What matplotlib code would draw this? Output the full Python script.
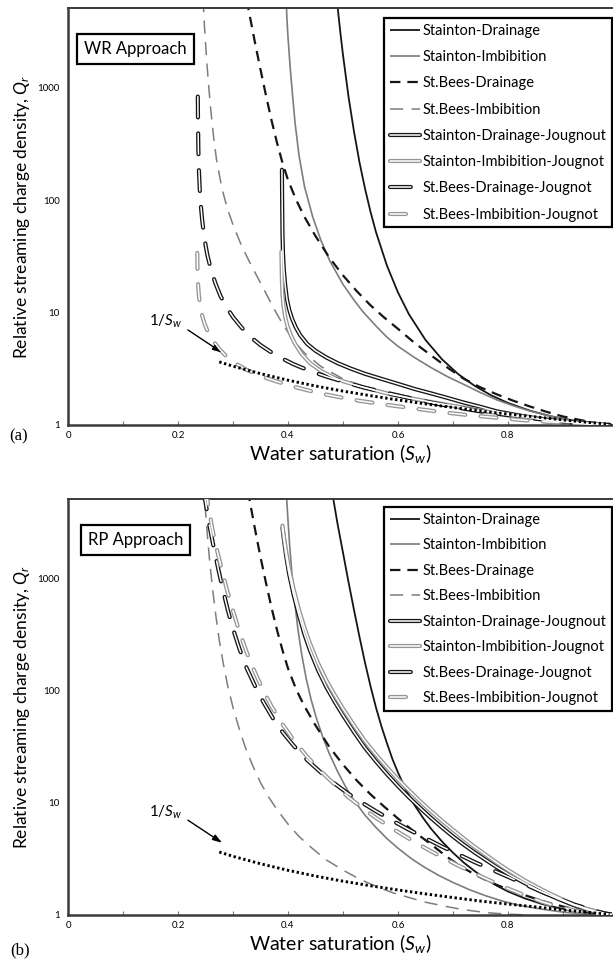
import matplotlib
matplotlib.use("Agg")
import matplotlib.pyplot as plt
from matplotlib.legend_handler import HandlerTuple
from matplotlib.ticker import FixedLocator, NullLocator

plt.rcParams["font.family"] = ["Lato", "DejaVu Sans"]
plt.rcParams["mathtext.fontset"] = "custom"
plt.rcParams["mathtext.rm"] = "Lato"
plt.rcParams["mathtext.it"] = "Lato:italic"
plt.rcParams["lines.scale_dashes"] = False

# ---------------------------------------------------------------- labels
series_labels = [
    "Stainton-Drainage",
    "Stainton-Imbibition",
    "St.Bees-Drainage",
    "St.Bees-Imbibition",
    "Stainton-Drainage-Jougnout",
    "Stainton-Imbibition-Jougnot",
    "St.Bees-Drainage-Jougnot",
    "St.Bees-Imbibition-Jougnot",
]
panel_titles = ["WR Approach", "RP Approach"]
panel_tags = ["(a)", "(b)"]
x_ticks = [0, 0.2, 0.4, 0.6, 0.8]
x_tick_labels = ["0", "0.2", "0.4", "0.6", "0.8"]
x_minor_ticks = [0.1, 0.3, 0.5, 0.7, 0.9]
y_ticks = [1, 10, 100, 1000]
y_tick_labels = ["1", "10", "100", "1000"]

# ---------------------------------------------------------------- (a) WR approach
wr_stainton_dr_sw = [0.485, 0.49, 0.495, 0.50, 0.51, 0.52, 0.53, 0.54, 0.55, 0.56, 0.58,
                     0.60, 0.62, 0.65, 0.68, 0.71, 0.74, 0.77, 0.80, 0.84, 0.88, 0.92,
                     0.96, 0.99]
wr_stainton_dr_q = [9500, 5350, 3170, 1960, 835, 408, 217, 127, 79, 52, 26.1,
                    15.1, 9.64, 5.71, 3.84, 2.82, 2.22, 1.83, 1.57, 1.34, 1.19, 1.094,
                    1.031, 1.004]

wr_stainton_im_sw = [0.396, 0.398, 0.40, 0.404, 0.408, 0.413, 0.42, 0.43, 0.445, 0.46,
                     0.476, 0.50, 0.52, 0.536, 0.56, 0.58, 0.60, 0.63, 0.66, 0.69,
                     0.72, 0.75, 0.78, 0.81, 0.84, 0.88, 0.92, 0.96, 0.985]
wr_stainton_im_q = [7940, 4170, 2820, 1510, 891, 479, 251, 132, 70.8, 43.7,
                    28.8, 17.8, 12.9, 10.2, 7.59, 6.03, 5.01, 3.98, 3.24, 2.69,
                    2.29, 1.94, 1.67, 1.48, 1.33, 1.19, 1.09, 1.03, 1.005]

wr_stbees_dr_sw = [0.325, 0.33, 0.34, 0.35, 0.36, 0.37, 0.38, 0.39, 0.40, 0.415,
                   0.43, 0.45, 0.475, 0.50, 0.525, 0.55, 0.575, 0.60, 0.63, 0.66,
                   0.69, 0.72, 0.75, 0.78, 0.81, 0.84, 0.87, 0.90, 0.93, 0.96, 0.985]
wr_stbees_dr_q = [6030, 4470, 2510, 1450, 851, 513, 324, 214, 151, 100,
                  70.8, 47.9, 30.9, 21.4, 15.5, 11.6, 9.02, 7.16, 5.37, 4.17,
                  3.24, 2.57, 2.16, 1.87, 1.64, 1.46, 1.31, 1.19, 1.11, 1.04, 1.007]

wr_stbees_im_sw = [0.245, 0.248, 0.252, 0.256, 0.26, 0.265, 0.27, 0.28, 0.29, 0.30,
                   0.315, 0.33, 0.345, 0.36, 0.375, 0.39, 0.41, 0.43, 0.46, 0.50,
                   0.55, 0.60, 0.65, 0.70, 0.75, 0.80, 0.85, 0.90, 0.95, 0.985]
wr_stbees_im_q = [7080, 3550, 1780, 1000, 603, 355, 229, 126, 83.2, 60.3,
                  39.8, 28.2, 20.4, 14.8, 10.7, 7.94, 5.62, 4.37, 3.31, 2.57,
                  2.09, 1.80, 1.58, 1.43, 1.30, 1.21, 1.13, 1.07, 1.03, 1.005]

wr_stainton_dr_j_sw = [0.389, 0.3893, 0.3897, 0.390, 0.391, 0.3925, 0.395, 0.398, 0.402,
                       0.407, 0.414, 0.422, 0.435, 0.45, 0.47, 0.49, 0.515, 0.54, 0.57,
                       0.60, 0.63, 0.66, 0.69, 0.72, 0.75, 0.78, 0.81, 0.84, 0.87, 0.90,
                       0.93, 0.96, 0.985]
wr_stainton_dr_j_q = [186, 112, 70.8, 50.1, 33.1, 24.0, 17.4, 13.2, 10.7,
                      8.91, 7.41, 6.31, 5.25, 4.57, 3.98, 3.55, 3.16, 2.85, 2.57,
                      2.32, 2.09, 1.91, 1.74, 1.58, 1.45, 1.32, 1.24, 1.17, 1.11, 1.07,
                      1.04, 1.014, 1.002]

wr_stainton_im_j_sw = [0.388, 0.3885, 0.389, 0.390, 0.392, 0.395, 0.399, 0.405, 0.413,
                       0.425, 0.44, 0.46, 0.48, 0.50, 0.53, 0.56, 0.59, 0.62, 0.66,
                       0.70, 0.74, 0.78, 0.82, 0.86, 0.90, 0.94, 0.975]
wr_stainton_im_j_q = [34.7, 25.1, 19.1, 14.5, 11.2, 9.12, 7.59, 6.31, 5.25,
                      4.27, 3.55, 3.02, 2.69, 2.45, 2.21, 2.02, 1.86, 1.74, 1.60,
                      1.48, 1.37, 1.28, 1.20, 1.135, 1.08, 1.04, 1.01]

wr_stbees_dr_j_sw = [0.236, 0.2365, 0.237, 0.238, 0.2395, 0.2415, 0.244, 0.248, 0.253,
                     0.26, 0.268, 0.277, 0.289, 0.30, 0.315, 0.33, 0.35, 0.37, 0.39,
                     0.41, 0.44, 0.47, 0.50, 0.54, 0.58, 0.62, 0.66, 0.70, 0.75, 0.80,
                     0.85, 0.90, 0.94, 0.98]
wr_stbees_dr_j_q = [832, 447, 282, 186, 126, 89.1, 66.1, 45.7, 33.1,
                    24.0, 18.2, 14.1, 11.0, 9.12, 7.41, 6.17, 5.13, 4.42, 3.89,
                    3.47, 3.02, 2.69, 2.43, 2.14, 1.93, 1.74, 1.58, 1.45, 1.32, 1.22,
                    1.135, 1.07, 1.03, 1.005]

wr_stbees_im_j_sw = [0.235, 0.2355, 0.2365, 0.238, 0.2405, 0.244, 0.249, 0.256, 0.265,
                     0.276, 0.29, 0.305, 0.325, 0.35, 0.38, 0.415, 0.45, 0.49, 0.53,
                     0.58, 0.63, 0.68, 0.73, 0.78, 0.83, 0.88, 0.93, 0.975]
wr_stbees_im_j_q = [33.9, 24.0, 17.8, 14.1, 11.5, 9.33, 7.76, 6.46, 5.50,
                    4.68, 3.98, 3.51, 3.09, 2.72, 2.43, 2.16, 1.95, 1.78, 1.64,
                    1.51, 1.40, 1.30, 1.22, 1.16, 1.10, 1.06, 1.03, 1.005]

# ---------------------------------------------------------------- (b) RP approach
rp_stainton_dr_sw = [0.478, 0.482, 0.49, 0.50, 0.51, 0.52, 0.53, 0.54, 0.55, 0.56,
                     0.57, 0.58, 0.59, 0.60, 0.615, 0.63, 0.645, 0.66, 0.68, 0.70,
                     0.72, 0.74, 0.76, 0.78, 0.80, 0.83, 0.86, 0.89, 0.92, 0.95, 0.98]
rp_stainton_dr_q = [7080, 5250, 3090, 1700, 933, 525, 302, 178, 110, 70.8,
                    47.9, 33.9, 24.5, 18.6, 12.9, 9.55, 7.41, 5.89, 4.52, 3.59,
                    2.92, 2.45, 2.09, 1.82, 1.62, 1.41, 1.26, 1.16, 1.08, 1.035, 1.007]

rp_stainton_im_sw = [0.396, 0.398, 0.40, 0.403, 0.407, 0.412, 0.418, 0.425, 0.433, 0.442,
                     0.452, 0.463, 0.475, 0.49, 0.505, 0.52, 0.54, 0.56, 0.58, 0.60,
                     0.625, 0.65, 0.675, 0.70, 0.73, 0.76, 0.79, 0.82, 0.86, 0.90,
                     0.94, 0.98]
rp_stainton_im_q = [7080, 4790, 3310, 1995, 1122, 631, 355, 209, 129, 83.2,
                    56.2, 38.9, 27.5, 19.1, 13.8, 10.5, 7.76, 6.03, 4.79, 3.94,
                    3.16, 2.63, 2.24, 1.95, 1.68, 1.48, 1.33, 1.22, 1.13, 1.06,
                    1.02, 1.005]

rp_stbees_dr_sw = [0.327, 0.332, 0.34, 0.35, 0.36, 0.37, 0.38, 0.39, 0.40, 0.415,
                   0.43, 0.45, 0.475, 0.50, 0.525, 0.55, 0.575, 0.60, 0.63, 0.66,
                   0.69, 0.72, 0.75, 0.78, 0.81, 0.84, 0.87, 0.90, 0.93, 0.96, 0.985]
rp_stbees_dr_q = [6030, 4470, 2750, 1550, 912, 550, 347, 229, 158, 102,
                  72.4, 49.0, 31.6, 21.9, 15.8, 11.9, 9.23, 7.24, 5.50, 4.27,
                  3.27, 2.60, 2.16, 1.85, 1.62, 1.45, 1.30, 1.19, 1.10, 1.04, 1.007]

rp_stbees_im_sw = [0.247, 0.25, 0.254, 0.258, 0.263, 0.269, 0.275, 0.282, 0.29, 0.30,
                   0.31, 0.322, 0.335, 0.35, 0.365, 0.38, 0.40, 0.42, 0.445, 0.47,
                   0.50, 0.53, 0.56, 0.59, 0.62, 0.65, 0.68, 0.71, 0.74, 0.77,
                   0.80, 0.83]
rp_stbees_im_q = [7080, 3980, 2240, 1350, 794, 457, 282, 178, 112, 70.8,
                  47.9, 31.6, 21.9, 15.1, 11.2, 8.71, 6.46, 5.01, 3.89, 3.09,
                  2.51, 2.09, 1.80, 1.58, 1.43, 1.30, 1.21, 1.135, 1.08, 1.04,
                  1.016, 1.002]

rp_stainton_dr_j_sw = [0.39, 0.393, 0.397, 0.402, 0.41, 0.42, 0.43, 0.44, 0.455, 0.47,
                       0.485, 0.50, 0.52, 0.54, 0.56, 0.58, 0.60, 0.62, 0.64, 0.66,
                       0.68, 0.70, 0.72, 0.74, 0.76, 0.78, 0.80, 0.83, 0.86, 0.89,
                       0.92, 0.95, 0.975, 0.99]
rp_stainton_dr_j_q = [2820, 2140, 1550, 1100, 724, 468, 316, 229, 151, 107,
                      79.4, 60.3, 42.7, 30.9, 23.4, 18.0, 14.1, 11.2, 9.02, 7.33,
                      6.03, 5.01, 4.22, 3.59, 3.09, 2.66, 2.32, 1.93, 1.62, 1.40,
                      1.22, 1.10, 1.03, 1.005]

rp_stainton_im_j_sw = [0.39, 0.393, 0.397, 0.402, 0.41, 0.42, 0.43, 0.44, 0.455, 0.47,
                       0.485, 0.50, 0.52, 0.54, 0.56, 0.58, 0.60, 0.62, 0.64, 0.66,
                       0.68, 0.70, 0.72, 0.74, 0.76, 0.78, 0.80, 0.83, 0.86, 0.89,
                       0.92, 0.95, 0.975, 0.99]
rp_stainton_im_j_q = [2950, 2290, 1700, 1230, 813, 525, 363, 263, 174, 123,
                      91.2, 69.2, 49.0, 35.5, 26.9, 20.7, 16.2, 12.9, 10.35, 8.41,
                      6.92, 5.75, 4.79, 4.03, 3.43, 2.92, 2.51, 2.04, 1.70, 1.44,
                      1.24, 1.11, 1.03, 1.005]

rp_stbees_dr_j_sw = [0.246, 0.25, 0.256, 0.264, 0.273, 0.282, 0.291, 0.30, 0.312, 0.325,
                     0.34, 0.355, 0.373, 0.39, 0.41, 0.435, 0.46, 0.485, 0.51, 0.535,
                     0.56, 0.59, 0.62, 0.65, 0.68, 0.71, 0.74, 0.77, 0.80, 0.83,
                     0.86, 0.89, 0.92, 0.95, 0.975, 0.99]
rp_stbees_dr_j_q = [6310, 4790, 3160, 1995, 1230, 776, 513, 355, 234, 158,
                    110, 79.4, 56.2, 42.7, 32.4, 24.0, 18.6, 14.8, 12.0, 10.0,
                    8.41, 6.92, 5.75, 4.84, 4.07, 3.47, 2.95, 2.54, 2.19, 1.88,
                    1.62, 1.41, 1.24, 1.12, 1.035, 1.007]

rp_stbees_im_j_sw = [0.250, 0.255, 0.262, 0.27, 0.28, 0.29, 0.30, 0.312, 0.325, 0.34,
                     0.355, 0.37, 0.39, 0.41, 0.435, 0.46, 0.485, 0.51, 0.535, 0.56,
                     0.59, 0.62, 0.65, 0.68, 0.71, 0.74, 0.77, 0.80, 0.83, 0.86,
                     0.89, 0.92, 0.95, 0.975]
rp_stbees_im_j_q = [6310, 4470, 2820, 1860, 1175, 759, 513, 331, 219, 145,
                    100, 72.4, 50.1, 36.3, 25.7, 19.1, 14.5, 11.2, 9.02, 7.33,
                    5.89, 4.79, 3.94, 3.27, 2.75, 2.34, 2.00, 1.72, 1.50, 1.32,
                    1.19, 1.10, 1.035, 1.007]

# ---------------------------------------------------------------- 1/Sw reference
inv_sw_sw = [0.275, 0.30, 0.35, 0.40, 0.45, 0.50, 0.55, 0.60, 0.65, 0.70,
             0.75, 0.80, 0.85, 0.90, 0.95, 0.985]
inv_sw_q = [3.64, 3.33, 2.86, 2.50, 2.22, 2.00, 1.82, 1.67, 1.54, 1.43,
            1.33, 1.25, 1.18, 1.11, 1.05, 1.015]

wr_series = [
    (wr_stainton_dr_sw, wr_stainton_dr_q), (wr_stainton_im_sw, wr_stainton_im_q),
    (wr_stbees_dr_sw, wr_stbees_dr_q), (wr_stbees_im_sw, wr_stbees_im_q),
    (wr_stainton_dr_j_sw, wr_stainton_dr_j_q), (wr_stainton_im_j_sw, wr_stainton_im_j_q),
    (wr_stbees_dr_j_sw, wr_stbees_dr_j_q), (wr_stbees_im_j_sw, wr_stbees_im_j_q),
]
rp_series = [
    (rp_stainton_dr_sw, rp_stainton_dr_q), (rp_stainton_im_sw, rp_stainton_im_q),
    (rp_stbees_dr_sw, rp_stbees_dr_q), (rp_stbees_im_sw, rp_stbees_im_q),
    (rp_stainton_dr_j_sw, rp_stainton_dr_j_q), (rp_stainton_im_j_sw, rp_stainton_im_j_q),
    (rp_stbees_dr_j_sw, rp_stbees_dr_j_q), (rp_stbees_im_j_sw, rp_stbees_im_j_q),
]

# ---------------------------------------------------------------- line styles
BLACK = "#151515"
GREY = "#7d7d7d"
LIGHT = "#959595"
single_styles = [
    dict(color=BLACK, lw=1.3, ls="-"),
    dict(color=GREY, lw=1.2, ls="-"),
    dict(color=BLACK, lw=1.6, ls=(0, (7.5, 5))),
    dict(color=GREY, lw=1.1, ls=(0, (9.5, 6))),
]
double_styles = [
    dict(outer=BLACK, ls="-"),
    dict(outer=LIGHT, ls="-"),
    dict(outer=BLACK, ls=(0, (15, 11.5))),
    dict(outer=LIGHT, ls=(0, (11.5, 11))),
]


def draw_panel(ax, series, title, legend_top, label_spacing):
    handles = []
    for (sw, q), st in zip(series[:4], single_styles):
        ln, = ax.plot(sw, q, solid_capstyle="butt", dash_capstyle="butt",
                      solid_joinstyle="round", **st)
        handles.append(ln)
    for (sw, q), st in zip(series[4:], double_styles):
        outer, = ax.plot(sw, q, color=st["outer"], lw=3.0, ls=st["ls"],
                         dash_capstyle="round", solid_capstyle="round",
                         solid_joinstyle="round", zorder=3)
        inner, = ax.plot(sw, q, color="white", lw=1.1, ls=st["ls"],
                         dash_capstyle="round", solid_capstyle="round",
                         solid_joinstyle="round", zorder=3.1)
        handles.append((outer, inner))
    ax.plot(inv_sw_sw, inv_sw_q, color="black", lw=2.1, ls=(0, (1.7, 1.9)),
            dash_capstyle="butt", zorder=4)

    ax.set_yscale("log")
    ax.set_xlim(0, 0.99)
    ax.set_ylim(1, 5100)
    ax.xaxis.set_major_locator(FixedLocator(x_ticks))
    ax.set_xticklabels(x_tick_labels)
    ax.xaxis.set_minor_locator(FixedLocator(x_minor_ticks))
    ax.yaxis.set_major_locator(FixedLocator(y_ticks))
    ax.set_yticklabels(y_tick_labels)
    ax.yaxis.set_minor_locator(NullLocator())
    ax.tick_params(axis="x", which="major", direction="in", length=3, width=0.8,
                   labelsize=7, pad=4, color="#777777")
    ax.tick_params(axis="x", which="minor", direction="in", length=3, width=0.8,
                   color="#777777")
    ax.tick_params(axis="y", which="major", direction="in", length=0,
                   labelsize=7, pad=6)
    for side in ("left", "bottom"):
        ax.spines[side].set_linewidth(1.8)
        ax.spines[side].set_color("#3a3a3a")
    ax.spines["top"].set_linewidth(1.4)
    ax.spines["top"].set_color("#3a3a3a")
    ax.spines["right"].set_visible(False)

    ax.set_xlabel(r"Water saturation ($S_w$)", fontsize=14, labelpad=2)
    ax.set_ylabel(r"Relative streaming charge density, $Q_r$", fontsize=12.5)
    ax.yaxis.set_label_coords(-0.067, 0.5)

    ax.text(0.124, 0.902, title, transform=ax.transAxes, fontsize=12,
            ha="center", va="center",
            bbox=dict(boxstyle="square,pad=0.42", fc="white", ec="black", lw=1.6))

    ax.text(0.178, 8.3, r"1/$S_w$", fontsize=11, ha="center", va="center")
    ax.annotate("", xy=(0.28, 4.4), xytext=(0.218, 7.0),
                arrowprops=dict(arrowstyle="-|>,head_length=0.55,head_width=0.18",
                                color="black", lw=1.0, shrinkA=0, shrinkB=0))

    leg = ax.legend(handles, series_labels, loc="upper right",
                    bbox_to_anchor=(1.0, legend_top), borderaxespad=0,
                    fontsize=10.5, frameon=True, fancybox=False, framealpha=1,
                    edgecolor="black", handlelength=2.1, handletextpad=0.15,
                    labelspacing=label_spacing, borderpad=0.4,
                    handler_map={tuple: HandlerTuple(ndivide=1)})
    leg.get_frame().set_linewidth(1.6)
    leg.set_zorder(10)


fig = plt.figure(figsize=(6.13, 9.68), dpi=100)
ax_top = fig.add_axes([0.111, 0.561, 0.888, 0.4307])
ax_bot = fig.add_axes([0.111, 0.0548, 0.888, 0.4297])

draw_panel(ax_top, wr_series, panel_titles[0], 0.976, 0.84)
draw_panel(ax_bot, rp_series, panel_titles[1], 0.981, 0.79)

fig.text(0.031, 0.549, panel_tags[0], fontsize=12, family="Liberation Serif",
         ha="center", va="center")
fig.text(0.033, 0.018, panel_tags[1], fontsize=12, family="Liberation Serif",
         ha="center", va="center")

fig.savefig("out.png", dpi=100)
